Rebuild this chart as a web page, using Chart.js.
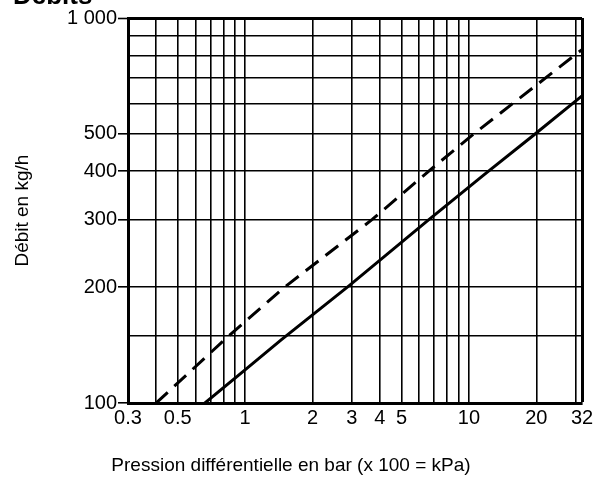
<!DOCTYPE html>
<html>
<head>
<meta charset="utf-8">
<script src="https://cdn.jsdelivr.net/npm/chart.js@4.4.1/dist/chart.umd.min.js"></script>
<style>
    body {margin: 0; background: #fff;}
    #wrap {position: relative; width: 597px; height: 477px; overflow: hidden;}
    #title {position: absolute; left: 13px; top: -20px; font: bold 26px "Liberation Sans", Arial, sans-serif; color: #000;}
</style>
</head>
<body>
<div id="wrap">
    <canvas id="myChart"></canvas>
    <div id="title">Débits</div>
</div>
<script>
// valeurs
const xGrid = [0.3, 0.4, 0.5, 0.6, 0.7, 0.8, 0.9, 1, 2, 3, 4, 5, 6, 7, 8, 9, 10, 20, 30, 32]
const xLabels = [0.3, 0.5, 1, 2, 3, 4, 5, 10, 20, 32]
const yGrid = [100, 150, 200, 300, 400, 500, 600, 700, 800, 900, 1000]
const yLabels = [100, 200, 300, 400, 500, 1000]

const solidX = [0.66, 1, 1.45, 2.92, 6.5, 11.7, 19.5, 32]
const solidY = [100, 122, 146, 202, 297, 392, 497, 628]
const dashX = [0.4, 0.85, 1.5, 3.7, 6.6, 10.5, 16, 32]
const dashY = [100, 150, 200, 300, 400, 500, 605, 828]

const font = '"Liberation Sans", Arial, sans-serif'

const toPoints = (xs, ys) => xs.map((x, i) => ({x: x, y: ys[i]}))

let ctxEL = document.getElementById("myChart").getContext('2d')
new Chart(ctxEL, {
    type: 'scatter',
    data: {
        datasets: [{
            label: 'solid',
            data: toPoints(solidX, solidY),
            showLine: true,
            borderColor: '#000',
            borderWidth: 3,
            pointRadius: 0,
        }, {
            label: 'dashed',
            data: toPoints(dashX, dashY),
            showLine: true,
            borderColor: '#000',
            borderWidth: 3,
            borderDash: [16, 9],
            pointRadius: 0,
        }]
    },
    options: {
        responsive: true,
        maintainAspectRatio: false,
        animation: false,
        layout: {padding: {top: 18, right: 15, left: 0, bottom: 0}},
        plugins: {
            legend: {display: false},
            tooltip: {enabled: false},
            // légende de l'axe x, centrée sur la page comme sur l'original
            title: {
                display: true,
                position: 'bottom',
                text: 'Pression différentielle en bar (x 100 = kPa)',
                color: '#000',
                font: {family: font, size: 19, weight: 'normal'},
                padding: {top: 2, bottom: 0}
            }
        },
        scales: {
            x: {
                type: 'logarithmic',
                min: 0.3,
                max: 32,
                afterBuildTicks: (scale) => {
                    scale.ticks = xGrid.map(v => ({value: v}))
                },
                afterFit: (scale) => {
                    scale.height = 49
                },
                ticks: {
                    autoSkip: false,
                    maxRotation: 0,
                    padding: 3,
                    color: '#000',
                    font: {family: font, size: 20},
                    callback: (v) => xLabels.includes(v) ? String(v) : ''
                },
                grid: {
                    color: '#000',
                    lineWidth: (c) => c.tick && c.tick.value === 32 ? 3 : 1.6,
                    drawTicks: false,
                },
                border: {display: true, color: '#000', width: 3},
            },
            y: {
                type: 'logarithmic',
                min: 100,
                max: 1000,
                afterBuildTicks: (scale) => {
                    scale.ticks = yGrid.map(v => ({value: v}))
                },
                afterFit: (scale) => {
                    scale.width = 128
                },
                ticks: {
                    autoSkip: false,
                    padding: 1,
                    color: '#000',
                    font: {family: font, size: 20},
                    callback: (v) => yLabels.includes(v) ? (v === 1000 ? '1 000' : String(v)) : ''
                },
                grid: {
                    color: '#000',
                    lineWidth: (c) => c.tick && c.tick.value === 1000 ? 3 : 1.6,
                    tickLength: 10,
                    tickWidth: 1.6,
                    tickColor: (c) => c.tick && yLabels.includes(c.tick.value) ? '#000' : 'rgba(0,0,0,0)',
                },
                border: {display: true, color: '#000', width: 3},
                title: {
                    display: true,
                    text: 'Débit en kg/h',
                    color: '#000',
                    font: {family: font, size: 19},
                    padding: {top: 11, bottom: 0}
                }
            }
        }
    }
})
</script>
</body>
</html>
